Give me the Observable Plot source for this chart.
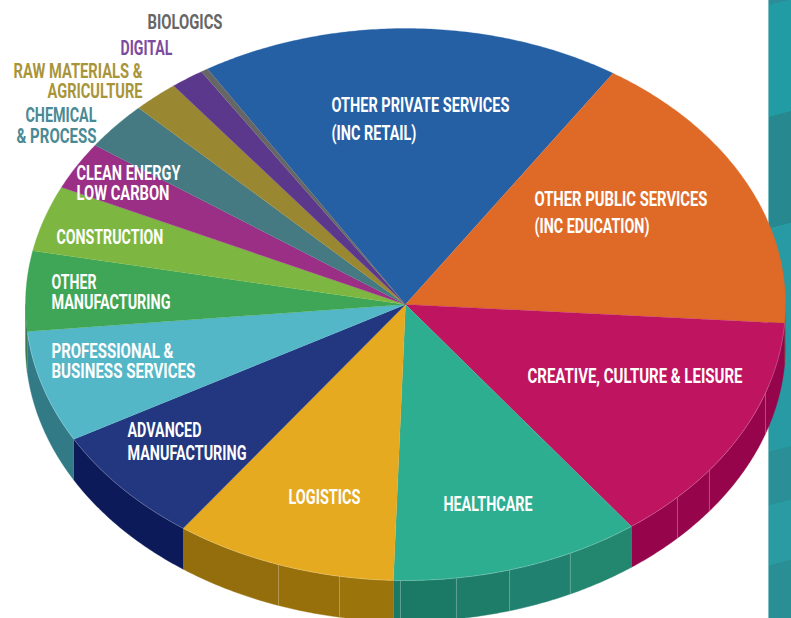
<!DOCTYPE html>
<html>
<head>
<meta charset="utf-8">
<script src="https://cdn.jsdelivr.net/npm/d3@7"></script>
<script src="https://cdn.jsdelivr.net/npm/@observablehq/plot@0.6"></script>
<style>
html,body{margin:0;padding:0;background:#fff;overflow:hidden}
#stage{position:relative;width:791px;height:618px;overflow:hidden}
#strip{position:absolute;left:768px;top:0;width:23px;height:618px;box-sizing:border-box;border-left:1px solid #7fbfc4;
background:linear-gradient(165.4deg,#2a8d97 0 5px,#229ca4 5px 113px,#27888f 113px 221px,#289aa3 221px 437px,#2a8f97 437px 489px,#2b9ba3 489px 547px,#2a8f95 547px)}
#chart{position:absolute;left:0;top:0}
</style>
</head>
<body>
<div id="stage"><div id="strip"></div><div id="chart"></div></div>
<script>
// Slice shares (% of the pie), clockwise from the blue slice
const sectors = ["Other private services","Other public services","Creative, culture & leisure","Healthcare","Logistics","Advanced manufacturing","Professional & business services","Other manufacturing","Construction","Clean energy low carbon","Chemical & process","Raw materials & agriculture","Digital","Biologics"];
const shares = [17.92,16.89,13.78,10.64,9.44,6.94,6.56,4.67,3.86,2.81,2.83,1.94,1.42,0.30];
const topColors = ["#2560a5","#df6a27","#bf1560","#2eae90","#e5aa20","#22377f","#54b7c8","#3ea656","#7db742","#9a2f85","#467a82","#9a8732","#5b388b","#666666"];
const wallColors = ["#1a4478","#9e4a1a","#96054b","#1e7f6b","#976f0b","#0c1a5a","#337a87","#3a7a50","#5a8530","#6e2060","#33595f","#6e6024","#402764","#444444"];
// Side-wall seams, degrees clockwise from the top of the ellipse
const seamAngles = [108.7,126.9,134.3,154.3,164.1,172.3,180.75,190,199.5];
// Shade of each wall panel inside a slice, in clockwise order
const wallShades = {3:["#23866f","#208170","#1e7d69","#1a7a66","#1a7a66"],4:["#9c740c","#976f0b","#946d0c"]};
const firstAngle = 328.6;
const depth = 0.148;

// Label lines
const labelText = ["BIOLOGICS","DIGITAL","RAW MATERIALS &","AGRICULTURE","CHEMICAL","& PROCESS","CLEAN ENERGY","LOW CARBON","CONSTRUCTION","OTHER","MANUFACTURING","PROFESSIONAL &","BUSINESS SERVICES","ADVANCED","MANUFACTURING","LOGISTICS","HEALTHCARE","CREATIVE, CULTURE & LEISURE","OTHER PUBLIC SERVICES","(INC EDUCATION)","OTHER PRIVATE SERVICES","(INC RETAIL)"];
const labelColor = ["#666666","#7d4a9e","#a8953a","#a8953a","#4a8a94","#4a8a94"];
const labelLeft = [147,120,13,47,25,16,76,76,56,51,51,51,51,127,127,288,443,527,534,534,331,331];
const labelMid  = [22,48,71,91,115,136,173,193,237,282,302,351,371,430,453,497,504,376,199,226,105,133];
const labelWide = [75,52,129,95,71,80,104,93,107,45,119,122,144,74,119,72,89,215,173,115,178,85];

const rad = d => d * Math.PI / 180;
const px = a => Math.sin(rad(a));
const py = a => Math.cos(rad(a));
const arcRange = (a0, a1) => {
  const n = Math.max(2, Math.ceil((a1 - a0) / 0.5));
  return d3.range(n + 1).map(i => a0 + (a1 - a0) * i / n);
};

// Slice boundaries
const total = d3.sum(shares);
let run = firstAngle;
const slices = shares.map((v, i) => {
  const a0 = run; run += v / total * 360;
  return {i, name: sectors[i], a0, a1: run};
});

const tops = slices.flatMap(s => [
  {key: s.i, x: 0, y: 0, fill: topColors[s.i]},
  ...arcRange(s.a0, s.a1).map(a => ({key: s.i, x: px(a), y: py(a), fill: topColors[s.i]}))
]);

// Side wall: only the front half of the rim
const walls = [];
const wallFront = slices.flatMap(s => {
  const ranges = [[s.a0, s.a1], [s.a0 - 360, s.a1 - 360]];
  return ranges.map(([a, b]) => ({s, a: Math.max(a, 90), b: Math.min(b, 270)})).filter(r => r.b > r.a);
});
wallFront.forEach(({s, a, b}) => {
  const cuts = [a, ...seamAngles.filter(t => t > a && t < b), b];
  d3.pairs(cuts).forEach(([c0, c1], k) => {
    const fill = wallShades[s.i] ? wallShades[s.i][k] : wallColors[s.i];
    const key = s.i + "-" + k;
    const rim = arcRange(c0, c1);
    rim.forEach(t => walls.push({key, x: px(t), y: py(t), fill}));
    rim.slice().reverse().forEach(t => walls.push({key, x: px(t), y: py(t) - depth, fill}));
  });
});
const seams = seamAngles.flatMap(t => [
  {key: t, x: px(t), y: py(t)},
  {key: t, x: px(t), y: py(t) - depth}
]);
const rimLine = arcRange(94, 264).map(a => ({x: px(a), y: py(a)}));

const toX = p => (p - 405) / 380;
const toY = p => (304 - p) / 276;
const labels = labelText.map((text, i) => ({
  text, x: toX(labelLeft[i]), y: toY(labelMid[i]), fill: labelColor[i] || "#ffffff"
}));

const chart = Plot.plot({
  width: 791, height: 618,
  margin: 0,
  style: {background: "transparent"},
  x: {domain: [-1, 1], range: [25, 785], axis: null},
  y: {domain: [1, -1], range: [28, 580], axis: null},
  color: {type: "identity"},
  marks: [
    Plot.line(walls, {x: "x", y: "y", z: "key", fill: "fill", stroke: "fill", strokeWidth: 0.4}),
    Plot.line(seams, {x: "x", y: "y", z: "key", stroke: "#ffffff", strokeOpacity: 0.22, strokeWidth: 0.8}),
    Plot.line(tops, {x: "x", y: "y", z: "key", fill: "fill", stroke: "fill", strokeWidth: 0.3}),
    Plot.line(rimLine, {x: "x", y: "y", stroke: "#ffffff", strokeOpacity: 0.3, strokeWidth: 0.7}),
    Plot.text(labels, {x: "x", y: "y", text: "text", fill: "fill", textAnchor: "start",
      fontFamily: "'Liberation Sans Narrow','Roboto',sans-serif", fontWeight: 700, fontSize: 21})
  ]
});
document.getElementById("chart").append(chart);
// Condense each label line to the width it has in the reference
chart.querySelectorAll('g[aria-label="text"] text').forEach((node, i) => {
  const natural = node.getComputedTextLength();
  const move = node.getAttribute("transform") || "";
  node.setAttribute("transform", `${move} scale(${labelWide[i] / natural},1)`);
});
</script>
</body>
</html>
